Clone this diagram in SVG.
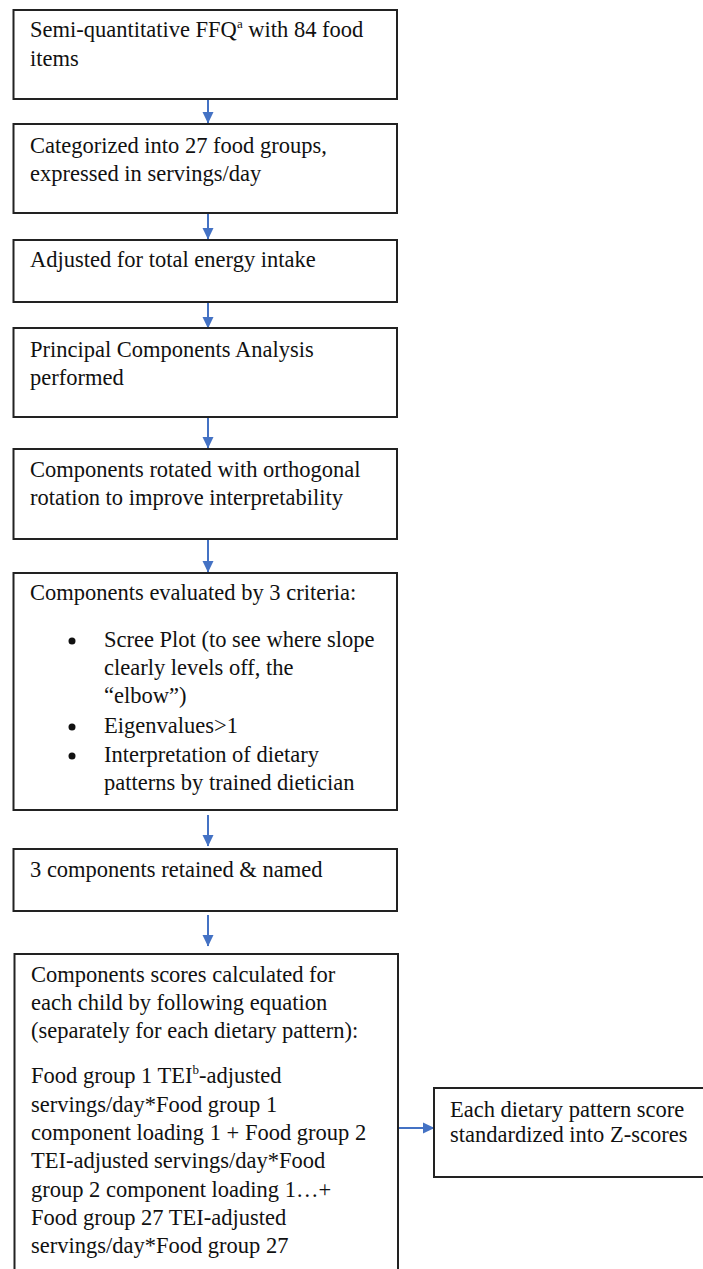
<svg xmlns="http://www.w3.org/2000/svg" width="703" height="1269" viewBox="0 0 703 1269">
<defs>
<style>
.box{fill:#fff;stroke:#222;stroke-width:2}
.t{font-family:"Liberation Serif","Times New Roman",serif;font-size:22.5px;fill:#111}
.sup{font-size:13px}
.conn{stroke:#4472C4;stroke-width:2;fill:none}
</style>
<marker id="ah" markerUnits="userSpaceOnUse" markerWidth="12" markerHeight="12" viewBox="0 0 12 12" refX="11" refY="6" orient="auto">
<path d="M0,0.5 L11.5,6 L0,11.5 Z" fill="#4472C4"/>
</marker>
</defs>
<rect width="703" height="1269" fill="#fff"/>
<g id="connectors">
<line class="conn" x1="208" y1="99" x2="208" y2="123" marker-end="url(#ah)"/>
<line class="conn" x1="208" y1="213" x2="208" y2="239" marker-end="url(#ah)"/>
<line class="conn" x1="208" y1="302" x2="208" y2="328" marker-end="url(#ah)"/>
<line class="conn" x1="208" y1="417" x2="208" y2="448" marker-end="url(#ah)"/>
<line class="conn" x1="208" y1="539" x2="208" y2="572" marker-end="url(#ah)"/>
<line class="conn" x1="208" y1="815" x2="208" y2="846" marker-end="url(#ah)"/>
<line class="conn" x1="208" y1="915" x2="208" y2="946" marker-end="url(#ah)"/>
<line class="conn" x1="398" y1="1128" x2="434" y2="1128" marker-end="url(#ah)"/>
</g>
<g id="n1">
<rect class="box" x="13.5" y="10" width="383.5" height="89"/>
<text class="t" x="30" y="37">Semi-quantitative FFQ<tspan class="sup" dy="-9">a</tspan><tspan dy="9"> with 84 food</tspan></text>
<text class="t" x="30" y="66">items</text>
</g>
<g id="n2">
<rect class="box" x="13.5" y="124" width="383.5" height="89"/>
<text class="t" x="30" y="153">Categorized into 27 food groups,</text>
<text class="t" x="30" y="181">expressed in servings/day</text>
</g>
<g id="n3">
<rect class="box" x="13.5" y="240" width="383.5" height="62"/>
<text class="t" x="30" y="267">Adjusted for total energy intake</text>
</g>
<g id="n4">
<rect class="box" x="13.5" y="328" width="383.5" height="89"/>
<text class="t" x="30" y="357">Principal Components Analysis</text>
<text class="t" x="30" y="385">performed</text>
</g>
<g id="n5">
<rect class="box" x="13.5" y="449" width="383.5" height="90"/>
<text class="t" x="30" y="477">Components rotated with orthogonal</text>
<text class="t" x="30" y="505">rotation to improve interpretability</text>
</g>
<g id="n6">
<rect class="box" x="13.5" y="573" width="383.5" height="237"/>
<text class="t" x="30" y="600">Components evaluated by 3 criteria:</text>
<circle cx="72" cy="641" r="3.5" fill="#111"/>
<text class="t" x="104" y="647">Scree Plot (to see where slope</text>
<text class="t" x="104" y="675">clearly levels off, the</text>
<text class="t" x="104" y="703">“elbow”)</text>
<circle cx="72" cy="727" r="3.5" fill="#111"/>
<text class="t" x="104" y="733">Eigenvalues&gt;1</text>
<circle cx="72" cy="756" r="3.5" fill="#111"/>
<text class="t" x="104" y="762">Interpretation of dietary</text>
<text class="t" x="104" y="790">patterns by trained dietician</text>
</g>
<g id="n7">
<rect class="box" x="13.5" y="849" width="383.5" height="62"/>
<text class="t" x="30" y="877">3 components retained &amp; named</text>
</g>
<g id="n8">
<rect class="box" x="14.5" y="954" width="383.5" height="330"/>
<text class="t" x="31" y="982">Components scores calculated for</text>
<text class="t" x="31" y="1010">each child by following equation</text>
<text class="t" x="31" y="1038">(separately for each dietary pattern):</text>
<text class="t" x="31" y="1083">Food group 1 TEI<tspan class="sup" dy="-9">b</tspan><tspan dy="9">-adjusted</tspan></text>
<text class="t" x="31" y="1112">servings/day*Food group 1</text>
<text class="t" x="31" y="1140">component loading 1 + Food group 2</text>
<text class="t" x="31" y="1168">TEI-adjusted servings/day*Food</text>
<text class="t" x="31" y="1197">group 2 component loading 1…+</text>
<text class="t" x="31" y="1225">Food group 27 TEI-adjusted</text>
<text class="t" x="31" y="1253">servings/day*Food group 27</text>
</g>
<g id="n9">
<rect class="box" x="434" y="1088" width="290" height="89"/>
<text class="t" x="450" y="1117">Each dietary pattern score</text>
<text class="t" x="450" y="1142">standardized into Z-scores</text>
</g>
</svg>
